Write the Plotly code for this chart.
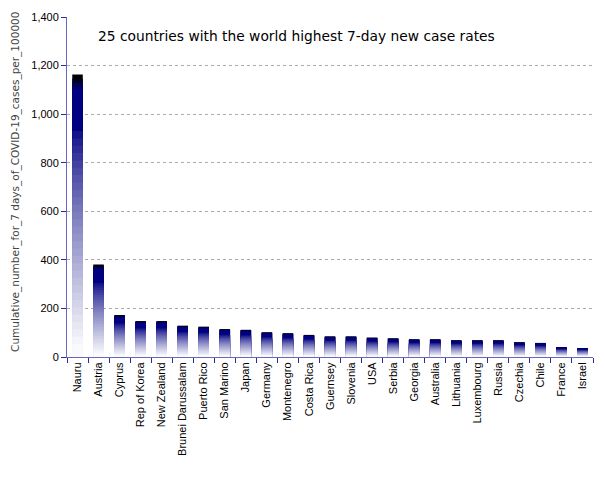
import plotly.graph_objects as go

countries = ["Nauru", "Austria", "Cyprus", "Rep of Korea", "New Zealand", "Brunei Darussalam",
             "Puerto Rico", "San Marino", "Japan", "Germany", "Montenegro", "Costa Rica",
             "Guernsey", "Slovenia", "USA", "Serbia", "Georgia", "Australia", "Lithuania",
             "Luxembourg", "Russia", "Czechia", "Chile", "France", "Israel"]
values = [1163, 381, 173, 148, 148, 129, 125, 115, 112, 102, 98, 91, 85, 85, 80, 77,
          73, 73, 69, 69, 69, 61, 58, 41, 37]

title_text = "25 countries with the world highest 7-day new case rates"
y_title = "Cumulative_number_for_7 days_of_COVID-19_cases_per_100000"
y_ticks = [0, 200, 400, 600, 800, 1000, 1200, 1400]


def mix(c1, c2, t):
    return "#%02x%02x%02x" % tuple(int(round(a + (b - a) * t)) for a, b in zip(c1, c2))


# gradient layers (style only): fraction of bar height, colour
layers = [(1.0, "#000000"), (0.985, "#000020"), (0.97, "#000060"), (0.95, "#000080")]
n = 30
for i in range(n):
    f = 0.80 - i * (0.78 / n)
    t = (i + 1) / n
    layers.append((f, mix((0, 0, 128), (250, 250, 253), t ** 0.75)))

fig = go.Figure()
for f, col in layers:
    fig.add_trace(go.Bar(
        x=countries, y=[v * f for v in values],
        marker=dict(color=col, line=dict(width=0)),
        width=0.5, hoverinfo="skip", showlegend=False,
    ))

fig.update_layout(
    width=605, height=480,
    barmode="overlay",
    margin=dict(l=59, r=20, t=9, b=131, autoexpand=False),
    paper_bgcolor="white", plot_bgcolor="white",
    font=dict(family="Liberation Sans, Arial, sans-serif", size=11, color="black"),
    annotations=[
        dict(text=title_text, xref="paper", yref="paper", x=0.055, y=0.944,
             xanchor="left", yanchor="middle", showarrow=False,
             font=dict(family="DejaVu Sans", size=13.8, color="black")),
        dict(text=y_title, xref="paper", yref="paper", x=-0.097, y=0.515,
             xanchor="center", yanchor="middle", showarrow=False, textangle=-90,
             font=dict(family="DejaVu Sans", size=10.5, color="#444444")),
    ],
)
fig.update_xaxes(
    type="category", tickangle=-90, tickson="boundaries",
    ticks="outside", ticklen=5, tickcolor="#2a2a9a",
    showline=True, linecolor="#6666bb", linewidth=1,
    showgrid=False, tickfont=dict(size=11), automargin=False,
)
fig.update_yaxes(
    range=[0, 1400], tickvals=y_ticks, tickformat=",",
    ticks="outside", ticklen=5, tickcolor="#2a2a9a",
    showline=True, linecolor="#6666bb", linewidth=1,
    showgrid=True, gridcolor="#aaaaaa", griddash="dot", gridwidth=1,
    zeroline=False, automargin=False,
    tickfont=dict(size=11),
)

fig.write_html("out.html")
